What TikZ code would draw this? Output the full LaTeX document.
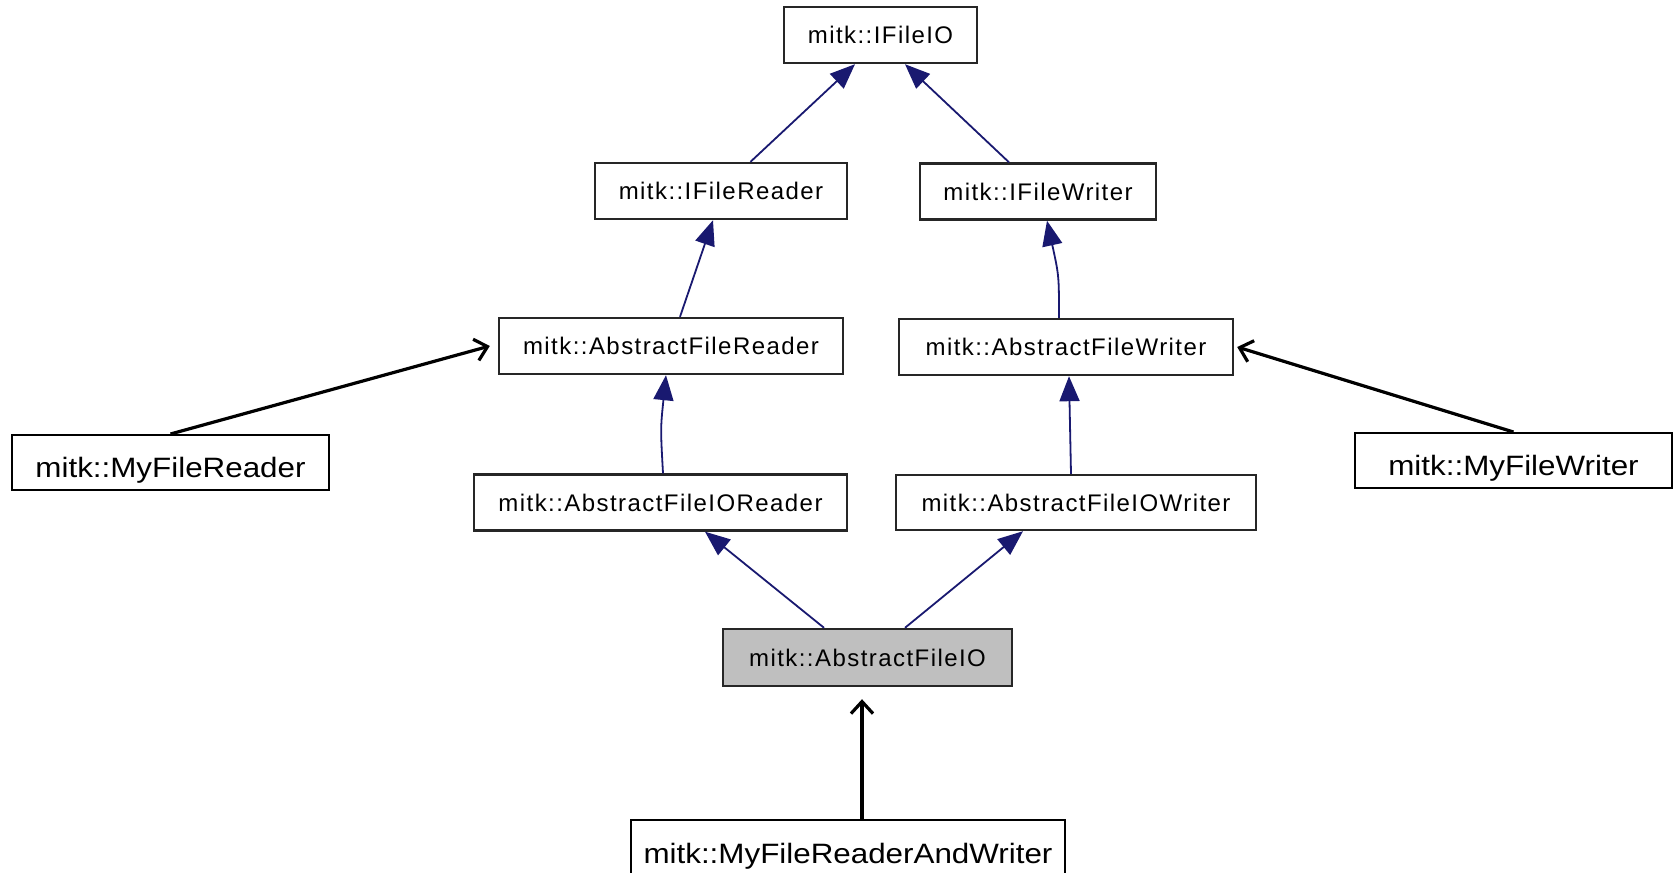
\documentclass[tikz,border=0pt]{standalone}
\usepackage{fontspec}
\setmainfont{Liberation Sans}
\newfontfamily\doxfont[LetterSpace=6]{Liberation Sans}
\newfontfamily\userfont[FakeStretch=1.12]{Liberation Sans}
\usetikzlibrary{arrows.meta,calc}
\definecolor{doxblue}{HTML}{191970}
\definecolor{doxgray}{HTML}{BFBFBF}
\tikzset{
  dox/.style={draw=black!85, line width=2.4pt, fill=white, inner sep=0pt, text height=17.5pt, text depth=0pt, font=\doxfont\fontsize{24}{28}\selectfont},
  cur/.style={dox, fill=doxgray},
  user/.style={draw=black, line width=2pt, fill=white, inner sep=0pt, text height=29pt, text depth=0pt, font=\userfont\fontsize{28}{32}\selectfont},
  inherit/.style={draw=doxblue, line width=1.8pt, -{Triangle[length=25pt,width=20pt]}, color=doxblue},
  uses/.style={draw=black, line width=3.2pt, -{Straight Barb[length=12pt,width=22pt,line width=3.2pt]}},
}
\begin{document}
\begin{tikzpicture}[x=1pt,y=-1pt]
\useasboundingbox (0,0) rectangle (1674,873);
\node[dox, minimum width=193pt, minimum height=56pt] (io) at (880.5,35) {mitk::IFileIO};
\node[dox, minimum width=252pt, minimum height=56pt] (rd) at (721,191) {mitk::IFileReader};
\node[dox, minimum width=236pt, minimum height=56pt] (wr) at (1038,191.5) {mitk::IFileWriter};
\node[dox, minimum width=344pt, minimum height=56pt] (afr) at (671,346) {mitk::AbstractFileReader};
\node[dox, minimum width=334pt, minimum height=56pt] (afw) at (1066,347) {mitk::AbstractFileWriter};
\node[dox, minimum width=373pt, minimum height=56pt] (afior) at (660.5,502.5) {mitk::AbstractFileIOReader};
\node[dox, minimum width=360pt, minimum height=55pt] (afiow) at (1076,502.5) {mitk::AbstractFileIOWriter};
\node[cur, minimum width=289pt, minimum height=57pt] (afio) at (867.5,657.5) {mitk::AbstractFileIO};
\node[user, minimum width=317pt, minimum height=55pt] (mfr) at (170.5,462.5) {mitk::MyFileReader};
\node[user, minimum width=317pt, minimum height=55pt] (mfw) at (1513.5,460.5) {mitk::MyFileWriter};
\node[user, minimum width=434pt, minimum height=58pt] (mfrw) at (848,849) {mitk::MyFileReaderAndWriter};

\draw[inherit] ([xshift=29.5pt]rd.north) -- ([xshift=-25.5pt]io.south);
\draw[inherit] ([xshift=-29pt]wr.north) -- ([xshift=24.5pt]io.south);
\draw[inherit] ([xshift=9pt]afr.north) -- ([xshift=-8pt]rd.south);
\draw[inherit] ([xshift=-7pt]afw.north) .. controls ([xshift=-7pt,yshift=42pt]afw.north) .. ([xshift=9pt]wr.south);
\draw[inherit] ([xshift=2.5pt]afior.north) .. controls ([xshift=0pt,yshift=45pt]afior.north) .. ([xshift=-5pt]afr.south);
\draw[inherit] ([xshift=-5pt]afiow.north) -- ([xshift=3pt]afw.south);
\draw[inherit] ([xshift=-43.5pt]afio.north) -- ([xshift=44.5pt]afior.south);
\draw[inherit] ([xshift=37.5pt]afio.north) -- ([xshift=-53pt]afiow.south);

\draw[uses] ([xshift=14pt]mfrw.north) -- ([xshift=-5.5pt,yshift=-12pt]afio.south);
\draw[uses] (mfr.north) -- ([xshift=-8pt]afr.west);
\draw[uses] (mfw.north) -- ([xshift=3pt]afw.east);
\end{tikzpicture}
\end{document}
